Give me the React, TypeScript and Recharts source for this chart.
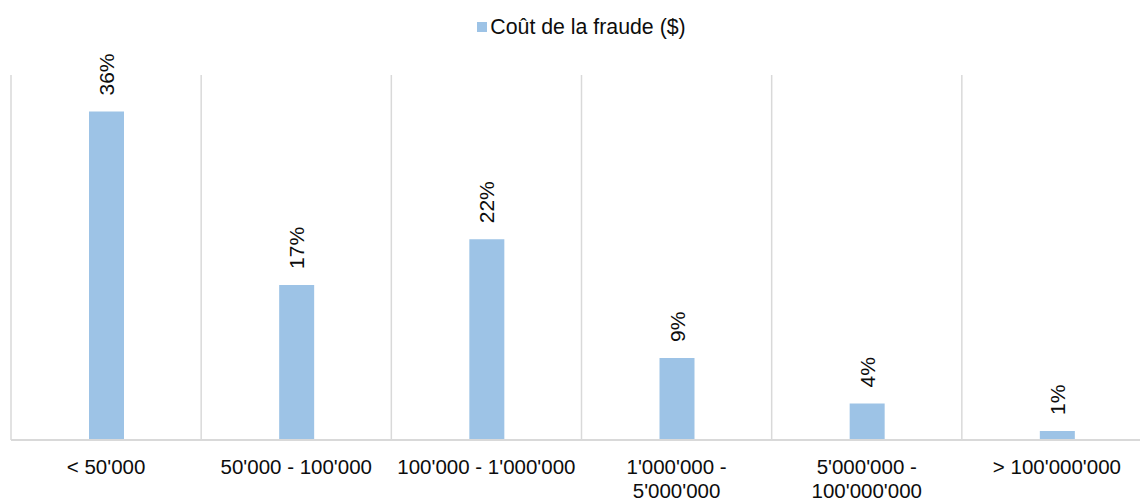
import { BarChart, Bar, XAxis, YAxis, CartesianGrid, Legend, LabelList } from 'recharts';

const categories = [
  "< 50'000",
  "50'000 - 100'000",
  "100'000 - 1'000'000",
  "1'000'000 - 5'000'000",
  "5'000'000 - 100'000'000",
  "> 100'000'000",
];
const coutValues = [36, 17, 22, 9, 4, 1];
const seriesName = 'Coût de la fraude ($)';
const yDomain = [0, 40];
const boundaryTicks = [0, 1, 2, 3, 4, 5, 6];

const BAR_COLOR = '#9DC3E6';
const GRID_COLOR = '#D9D9D9';
const TEXT_COLOR = '#0d0d0d';
const FONT = '"Liberation Sans", Arial, sans-serif';
const MAX_CHARS = 19;

const chartData = categories.map((name, i) => ({ name, cout: coutValues[i], slot: i + 0.5 }));

// long range labels break after the dash, like the source chart
function splitLabel(label: string): string[] {
  if (label.length <= MAX_CHARS) return [label];
  const idx = label.indexOf(' - ');
  if (idx < 0) return [label];
  return [label.slice(0, idx + 2), label.slice(idx + 3)];
}

function CategoryTick(props: any) {
  const { x, y, payload } = props;
  const lines = splitLabel(String(payload.value));
  return (
    <text x={x} y={y + 26} textAnchor="middle" fontSize={20.5} fontFamily={FONT} fill={TEXT_COLOR}>
      {lines.map((line, i) => (
        <tspan key={i} x={x} dy={i === 0 ? 0 : 24}>
          {line}
        </tspan>
      ))}
    </text>
  );
}

function RotatedLabel(props: any) {
  const { x, y, width, value } = props;
  const cx = x + width / 2;
  const ty = y - 16;
  return (
    <text
      x={cx}
      y={ty}
      transform={`rotate(-90 ${cx} ${ty})`}
      textAnchor="start"
      dominantBaseline="central"
      fontSize={21}
      fontFamily={FONT}
      fill={TEXT_COLOR}
    >
      {`${value}%`}
    </text>
  );
}

function TopLegend() {
  return (
    <div style={{ display: 'flex', justifyContent: 'center', alignItems: 'center', height: 22, fontFamily: FONT }}>
      <span style={{ width: 10, height: 10, background: BAR_COLOR, display: 'inline-block', marginRight: 3 }} />
      <span style={{ fontSize: 21.3, color: TEXT_COLOR, lineHeight: '22px' }}>{seriesName}</span>
    </div>
  );
}

export default function App() {
  return (
    <div style={{ position: 'fixed', left: 0, top: 0, width: 1140, height: 499, overflow: 'hidden', background: '#fff' }}>
      <BarChart
        width={1160}
        height={499}
        data={chartData}
        margin={{ top: 16, right: 8, left: 11, bottom: 0 }}
      >
        <Legend verticalAlign="top" align="center" height={59} content={<TopLegend />} />
        <XAxis xAxisId="grid" type="number" dataKey="slot" domain={[0, 6]} ticks={boundaryTicks} hide />
        <CartesianGrid xAxisId="grid" horizontal={false} vertical stroke={GRID_COLOR} strokeWidth={1.5} />
        <XAxis
          xAxisId="cat"
          dataKey="name"
          height={59}
          interval={0}
          tickLine={false}
          axisLine={{ stroke: GRID_COLOR, strokeWidth: 2 }}
          tick={<CategoryTick />}
        />
        <YAxis domain={yDomain} hide />
        <Bar xAxisId="cat" dataKey="cout" name={seriesName} fill={BAR_COLOR} barSize={35} isAnimationActive={false}>
          <LabelList dataKey="cout" content={<RotatedLabel />} />
        </Bar>
      </BarChart>
    </div>
  );
}
